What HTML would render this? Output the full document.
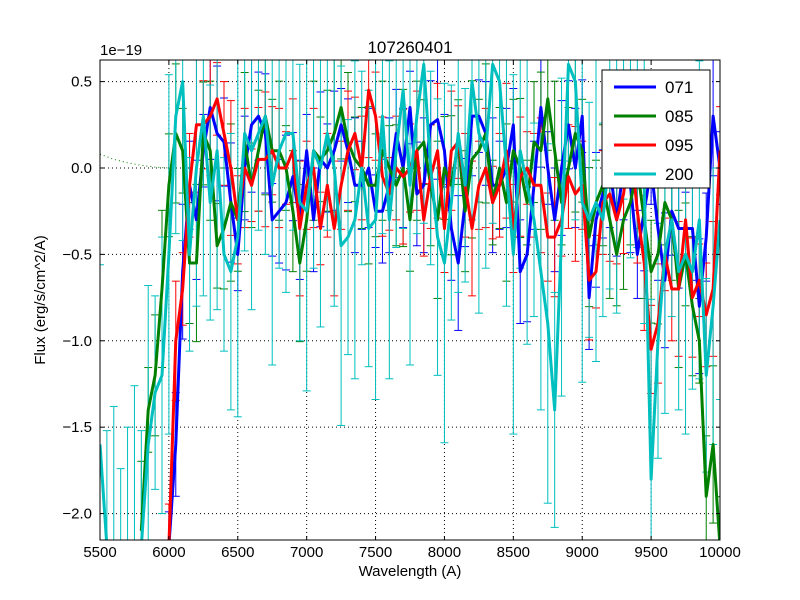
<!DOCTYPE html>
<html><head><meta charset="utf-8"><style>
html,body{margin:0;padding:0;background:#fff;overflow:hidden;width:800px;height:600px;}
svg{display:block;overflow:hidden;}
svg text{font-family:"Liberation Sans",sans-serif;}
</style></head><body>
<svg id="chart" width="800" height="600" viewBox="0 0 800 600" xmlns="http://www.w3.org/2000/svg">
<rect width="800" height="600" fill="#fff"/>
<defs><clipPath id="clip"><rect x="100" y="60" width="620" height="480"/></clipPath></defs>
<g id="grid"></g>
<g id="marks" clip-path="url(#clip)"></g>
<rect x="100" y="60" width="620" height="480" fill="none" stroke="#000" stroke-width="1"/>
<g id="ticks"></g>
<text x="410" y="53" font-size="17" text-anchor="middle">107260401</text>
<text x="100" y="55" font-size="15">1e−19</text>
<text x="410" y="576" font-size="15" text-anchor="middle">Wavelength (A)</text>
<text x="45" y="300" font-size="15" text-anchor="middle" transform="rotate(-90 45 300)">Flux (erg/s/cm^2/A)</text>
<g id="legend"></g>
</svg>
<script>
const xTicks=[5500,6000,6500,7000,7500,8000,8500,9000,9500,10000];
const yTicks=[0.5,0.0,-0.5,-1.0,-1.5,-2.0];
const yTickLabels=["0.5","0.0","−0.5","−1.0","−1.5","−2.0"];
const seriesNames=["071","085","095","200"];
const seriesColors=["#0000ff","#008000","#ff0000","#00bfbf"];
const wl071=[6000,6050,6100,6150,6200,6250,6300,6350,6400,6450,6500,6550,6600,6650,6700,6750,6800,6850,6900,6950,7000,7050,7100,7150,7200,7250,7300,7350,7400,7450,7500,7550,7600,7650,7700,7750,7800,7850,7900,7950,8000,8050,8100,8150,8200,8250,8300,8350,8400,8450,8500,8550,8600,8650,8700,8750,8800,8850,8900,8950,9000,9050,9100,9150,9200,9250,9300,9350,9400,9450,9500,9550,9600,9650,9700,9750,9800,9850,9900,9950,10000];
const flux071=[-2.2,-1.6,-0.6,-0.1,-0.3,0.1,0.35,0.2,0.15,-0.2,-0.5,0.0,0.25,0.3,0.2,-0.3,-0.25,-0.2,-0.05,-0.3,0.1,-0.3,0.05,0.0,0.1,0.25,0.1,-0.1,-0.1,0.0,-0.25,-0.25,-0.1,0.2,0.0,0.35,-0.15,-0.1,0.25,0.28,0.1,-0.35,-0.55,-0.2,0.3,0.3,0.2,-0.1,-0.1,0.0,0.25,-0.6,-0.5,-0.1,0.35,0.0,-0.3,0.0,0.25,0.0,0.3,-0.75,-0.3,-0.15,0.0,-0.3,0.0,-0.1,-0.5,-0.25,0.0,-0.35,-0.65,-0.25,-0.35,-0.35,-0.35,-0.8,-0.4,0.3,0.0];
const wl085=[5800,5850,5900,5950,6000,6050,6100,6150,6200,6250,6300,6350,6400,6450,6500,6550,6600,6650,6700,6750,6800,6850,6900,6950,7000,7050,7100,7150,7200,7250,7300,7350,7400,7450,7500,7550,7600,7650,7700,7750,7800,7850,7900,7950,8000,8050,8100,8150,8200,8250,8300,8350,8400,8450,8500,8550,8600,8650,8700,8750,8800,8850,8900,8950,9000,9050,9100,9150,9200,9250,9300,9350,9400,9450,9500,9550,9600,9650,9700,9750,9800,9850,9900,9950,10000];
const flux085=[-2.1,-1.4,-1.2,-0.7,-0.1,0.2,0.1,-0.55,-0.55,0.2,0.1,-0.45,-0.35,-0.2,-0.3,0.15,-0.1,0.1,0.3,0.1,0.1,0.0,-0.25,-0.55,-0.3,0.1,0.05,0.1,0.2,0.35,0.15,0.05,0.0,-0.1,-0.1,0.1,0.0,-0.1,0.0,-0.3,0.1,0.15,-0.1,-0.3,0.0,-0.1,0.15,-0.25,0.05,0.1,0.2,-0.2,0.0,-0.2,0.1,0.0,-0.2,0.15,0.1,0.4,0.1,-0.2,0.0,0.2,0.1,-0.4,-0.2,-0.1,-0.3,-0.5,-0.3,-0.2,0.0,-0.3,-0.6,-0.5,-0.2,-0.3,-0.7,-0.5,-0.8,-1.0,-1.9,-1.6,-2.2];
const wl085model=[5500,5600,5700,5800,5900,6000];
const flux085model=[0.08,0.05,0.03,0.015,0.005,0.0];
const wl095=[6000,6050,6100,6150,6200,6250,6300,6350,6400,6450,6500,6550,6600,6650,6700,6750,6800,6850,6900,6950,7000,7050,7100,7150,7200,7250,7300,7350,7400,7450,7500,7550,7600,7650,7700,7750,7800,7850,7900,7950,8000,8050,8100,8150,8200,8250,8300,8350,8400,8450,8500,8550,8600,8650,8700,8750,8800,8850,8900,8950,9000,9050,9100,9150,9200,9250,9300,9350,9400,9450,9500,9550,9600,9650,9700,9750,9800,9850,9900,9950,10000];
const flux095=[-2.2,-1.0,-0.7,-0.1,0.25,0.25,0.3,0.4,0.2,0.0,-0.3,0.0,-0.1,0.05,0.05,0.1,0.0,0.0,0.1,-0.35,-0.1,0.0,-0.35,-0.1,-0.35,-0.1,0.1,0.2,0.0,0.45,0.3,-0.05,-0.15,0.0,-0.05,0.0,0.1,-0.3,-0.05,0.1,-0.35,0.1,0.15,-0.1,-0.35,-0.1,0.0,-0.2,-0.1,0.1,-0.35,-0.05,0.0,-0.1,-0.1,-0.4,-0.4,-0.3,-0.05,-0.15,-0.1,-0.65,-0.6,-0.2,-0.15,-0.3,-0.15,0.15,-0.25,-0.55,-1.05,-0.9,-0.5,-0.7,-0.7,-0.3,-0.75,-0.65,-0.85,-0.7,0.1];
const wl200=[5500,5550,5600,5650,5700,5750,5800,5850,5900,5950,6000,6050,6100,6150,6200,6250,6300,6350,6400,6450,6500,6550,6600,6650,6700,6750,6800,6850,6900,6950,7000,7050,7100,7150,7200,7250,7300,7350,7400,7450,7500,7550,7600,7650,7700,7750,7800,7850,7900,7950,8000,8050,8100,8150,8200,8250,8300,8350,8400,8450,8500,8550,8600,8650,8700,8750,8800,8850,8900,8950,9000,9050,9100,9150,9200,9250,9300,9350,9400,9450,9500,9550,9600,9650,9700,9750,9800,9850,9900,9950,10000];
const flux200=[-1.6,-2.2,-2.3,-2.3,-2.3,-2.3,-2.2,-1.6,-1.3,-1.2,-0.5,0.3,0.5,-0.5,0.0,0.3,-0.2,0.1,-0.5,-0.6,-0.4,0.2,0.1,0.2,0.3,-0.1,0.1,0.2,0.2,-0.2,-0.25,0.1,0.0,0.2,0.0,-0.45,-0.4,-0.3,0.0,-0.35,-0.3,0.3,-0.3,0.1,0.45,-0.1,0.3,0.6,0.0,-0.4,-0.55,-0.2,0.2,-0.1,0.5,0.2,0.1,0.6,0.5,0.0,-0.5,0.1,-0.1,-0.3,-0.6,-0.9,-1.4,-0.4,0.6,0.5,-0.2,-0.3,-0.2,-0.3,0.1,0.2,0.5,0.4,0.1,-0.1,-1.8,-1.0,-0.5,-0.3,-0.6,-0.5,-0.6,-0.3,-1.2,-0.8,-0.3];
const errSize=[0.3,0.35,0.3,0.8];

const NS="http://www.w3.org/2000/svg";
const X0=100,X1=720,Y0=60,Y1=540,XMIN=5500,XMAX=10000,YMIN=-2.153,YMAX=0.625;
function xs(v){return X0+(v-XMIN)/(XMAX-XMIN)*(X1-X0);}
function ysRaw(v){return Y1-(v-YMIN)/(YMAX-YMIN)*(Y1-Y0);}
function ys(v){return Math.max(Y0-6,Math.min(Y1+6,ysRaw(v)));}
function mk(tag,attrs,parent){const e=document.createElementNS(NS,tag);for(const k in attrs)e.setAttribute(k,attrs[k]);parent.appendChild(e);return e;}
const grid=document.getElementById('grid'),ticks=document.getElementById('ticks'),marks=document.getElementById('marks'),legend=document.getElementById('legend');

xTicks.forEach((t,i)=>{const x=xs(t);
 if(i>0&&i<xTicks.length-1){const g=mk('line',{x1:x,x2:x,y1:Y0,y2:Y1,stroke:'#000','stroke-dasharray':'1,3','stroke-width':1},grid);
 
 }
 mk('line',{x1:x,x2:x,y1:Y1,y2:Y1-4,stroke:'#000'},ticks);
 mk('line',{x1:x,x2:x,y1:Y0,y2:Y0+4,stroke:'#000'},ticks);
 const tx=mk('text',{x:x,y:Y1+17,'font-size':15,'text-anchor':'middle'},ticks);tx.textContent=t;
 
 
});
yTicks.forEach((t,i)=>{const y=ys(t);
 const g=mk('line',{x1:X0,x2:X1,y1:y,y2:y,stroke:'#000','stroke-dasharray':'1,3','stroke-width':1},grid);
 
 
 mk('line',{x1:X0,x2:X0+4,y1:y,y2:y,stroke:'#000'},ticks);
 mk('line',{x1:X1,x2:X1-4,y1:y,y2:y,stroke:'#000'},ticks);
 const tx=mk('text',{x:X0-8,y:y+5,'font-size':15,'text-anchor':'end'},ticks);tx.textContent=yTickLabels[i];
 
 
});

const sets=[[wl071,flux071],[wl085,flux085],[wl095,flux095],[wl200,flux200]];
const mp=mk('polyline',{points:wl085model.map((w,i)=>xs(w)+','+ys(flux085model[i])).join(' '),fill:'none',stroke:'#008000','stroke-dasharray':'1,3','stroke-width':1},marks);


sets.forEach((s,k)=>{
 const [w,f]=s;const c=seriesColors[k];const g=mk('g',{},marks);
 
 
 w.forEach((wv,i)=>{const x=xs(wv),e=errSize[k]*(0.7+0.6*((i*7+k*3)%5)/4);
  const yt=ys(f[i]+e),yb=ys(f[i]-e);
  mk('line',{x1:x,x2:x,y1:yt,y2:yb,stroke:c,'stroke-width':1},g);
  mk('line',{x1:x-4,x2:x+4,y1:yt,y2:yt,stroke:c,'stroke-width':1},g);
  mk('line',{x1:x-4,x2:x+4,y1:yb,y2:yb,stroke:c,'stroke-width':1},g);
 });
});
sets.forEach((s,k)=>{
 const [w,f]=s;
 const p=mk('polyline',{points:w.map((wv,i)=>xs(wv)+','+ys(f[i])).join(' '),fill:'none',stroke:seriesColors[k],'stroke-width':3,'stroke-linejoin':'round'},marks);
 
 
});

mk('rect',{x:602,y:70,width:108,height:118,fill:'#fff',stroke:'#000'},legend);
seriesNames.forEach((n,i)=>{const y=87+i*29;
 const g=mk('g',{},legend);
 
 
 mk('line',{x1:614,x2:656,y1:y,y2:y,stroke:seriesColors[i],'stroke-width':3},g);
 const t=mk('text',{x:665,y:y+6,'font-size':17},g);t.textContent=n;
});
</script>
</body></html>
